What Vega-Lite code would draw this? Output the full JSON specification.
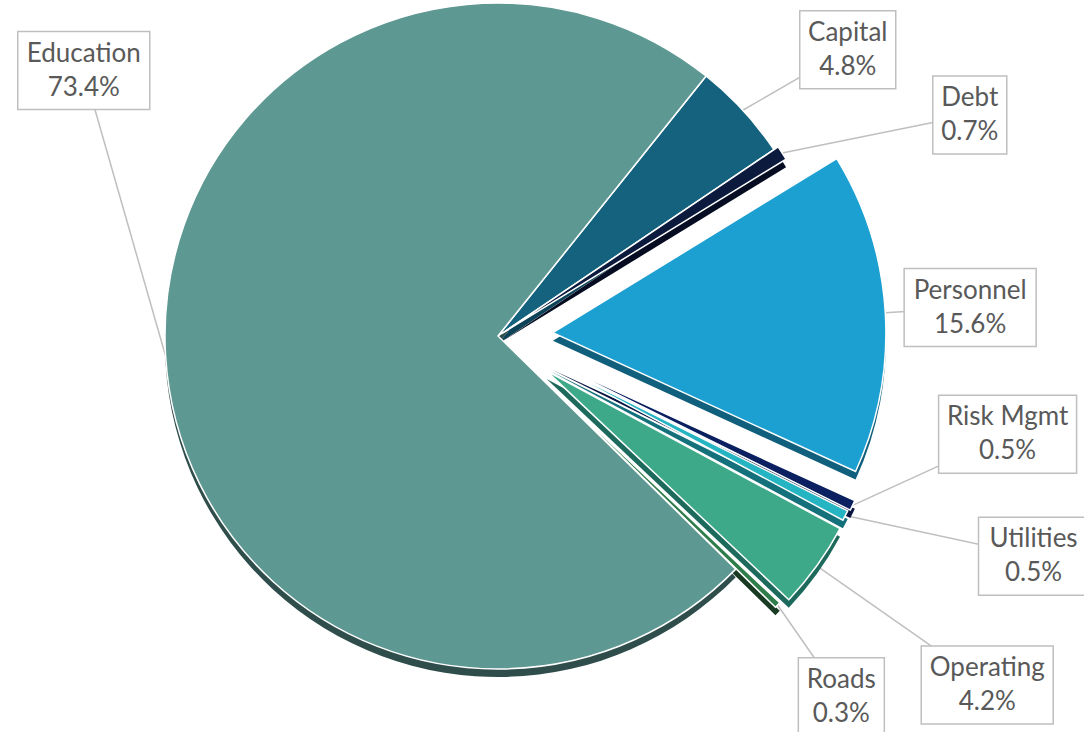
{
  "$schema": "https://vega.github.io/schema/vega-lite/v6.json",
  "width": 996,
  "height": 672,
  "autosize": {"type": "none"},
  "padding": {"left": 0, "top": 0, "right": 88, "bottom": 60},
  "background": "white",
  "config": {"view": {"stroke": null}},
  "data": {
    "values": [
      {"category": "Capital", "value": 4.8, "idx": 0},
      {"category": "Debt", "value": 0.7, "idx": 1},
      {"category": "Personnel", "value": 15.6, "idx": 2},
      {"category": "Risk Mgmt", "value": 0.5, "idx": 3},
      {"category": "Utilities", "value": 0.5, "idx": 4},
      {"category": "Operating", "value": 4.2, "idx": 5},
      {"category": "Roads", "value": 0.3, "idx": 6},
      {"category": "Education", "value": 73.4, "idx": 7}
    ]
  },
  "transform": [
    {"stack": "value", "groupby": [], "sort": [{"field": "idx", "order": "ascending"}], "as": ["t0", "t1"]},
    {"calculate": "(datum.t0+datum.t1)/2", "as": "mid"},
    {"calculate": "0.675+datum.mid*0.0628319", "as": "ang"},
    {"calculate": "[0,5,55,60,58,60,55,0][datum.idx]", "as": "ex"},
    {"calculate": "(333+datum.ex)*sin(datum.ang)", "as": "ax"},
    {"calculate": "(333+datum.ex)*cos(datum.ang)", "as": "ay"},
    {"calculate": "datum.ang+[0.059,0.134,0,-0.255,-0.087,-0.005,0.044,0.630][datum.idx]", "as": "la"},
    {"calculate": "[452,521,473,519,579,601,498,492][datum.idx]", "as": "lr"},
    {"calculate": "datum.lr*sin(datum.la)", "as": "lx"},
    {"calculate": "datum.lr*cos(datum.la)", "as": "ly"},
    {"calculate": "[48,37,66,69,55,66,43,66][datum.idx]", "as": "hw"},
    {"calculate": "datum.lx-datum.hw", "as": "bx0"},
    {"calculate": "datum.lx+datum.hw", "as": "bx1"},
    {"calculate": "datum.ly-39", "as": "by0"},
    {"calculate": "datum.ly+39", "as": "by1"},
    {"calculate": "datum.category+'\\n'+format(datum.value,'.1f')+'%'", "as": "label"}
  ],
  "layer": [
    {
      "mark": {"type": "rule", "stroke": "#BFBFBF", "strokeWidth": 1.5},
      "encoding": {
        "x": {"field": "ax", "type": "quantitative", "scale": {"domain": [-498, 498], "nice": false, "zero": false}, "axis": null},
        "y": {"field": "ay", "type": "quantitative", "scale": {"domain": [-336, 336], "nice": false, "zero": false}, "axis": null},
        "x2": {"field": "lx"},
        "y2": {"field": "ly"}
      }
    },
    {
      "mark": {"type": "arc", "radius": 333, "xOffset": {"expr": "datum.ex*sin(datum.ang)"}, "yOffset": {"expr": "8-datum.ex*cos(datum.ang)"}},
      "encoding": {
        "theta": {"field": "t0", "type": "quantitative", "scale": {"domain": [0, 100], "range": [0.675, 6.9582]}},
        "theta2": {"field": "t1"},
        "color": {
          "field": "category", "type": "nominal", "legend": null,
          "scale": {
            "domain": ["Capital", "Debt", "Personnel", "Risk Mgmt", "Utilities", "Operating", "Roads", "Education"],
            "range": ["#0D4358", "#060D22", "#105F7C", "#071540", "#14707A", "#1D6A5C", "#1A3B23", "#2F4E4B"]
          }
        }
      }
    },
    {
      "mark": {"type": "arc", "radius": 333, "stroke": "white", "strokeWidth": 1.5, "xOffset": {"expr": "datum.ex*sin(datum.ang)"}, "yOffset": {"expr": "-datum.ex*cos(datum.ang)"}},
      "encoding": {
        "theta": {"field": "t0", "type": "quantitative", "scale": {"domain": [0, 100], "range": [0.675, 6.9582]}},
        "theta2": {"field": "t1"},
        "color": {
          "field": "category", "type": "nominal", "legend": null,
          "scale": {
            "domain": ["Capital", "Debt", "Personnel", "Risk Mgmt", "Utilities", "Operating", "Roads", "Education"],
            "range": ["#14627E", "#0C1B3D", "#1C9FD1", "#0B2060", "#25B4C2", "#3DA988", "#2E7D4A", "#5E9893"]
          }
        }
      }
    },
    {
      "mark": {"type": "rect", "fill": "white", "stroke": "#BFBFBF", "strokeWidth": 1.5},
      "encoding": {
        "x": {"field": "bx0", "type": "quantitative", "scale": {"domain": [-498, 498], "nice": false, "zero": false}, "axis": null},
        "x2": {"field": "bx1"},
        "y": {"field": "by0", "type": "quantitative", "scale": {"domain": [-336, 336], "nice": false, "zero": false}, "axis": null},
        "y2": {"field": "by1"}
      }
    },
    {
      "mark": {"type": "text", "font": "Lato", "fontSize": 26, "color": "#595959", "align": "center", "baseline": "middle", "dy": -17, "lineBreak": "\n", "lineHeight": 34},
      "encoding": {
        "x": {"field": "lx", "type": "quantitative", "scale": {"domain": [-498, 498], "nice": false, "zero": false}, "axis": null},
        "y": {"field": "ly", "type": "quantitative", "scale": {"domain": [-336, 336], "nice": false, "zero": false}, "axis": null},
        "text": {"field": "label"}
      }
    }
  ],
  "resolve": {"scale": {"color": "independent"}}
}
